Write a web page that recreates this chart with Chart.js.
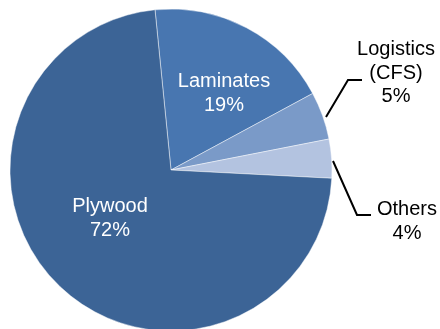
<!DOCTYPE html>
<html>
<head>
<meta charset="utf-8">
<script src="https://cdn.jsdelivr.net/npm/chart.js@4"></script>
<style>
    html, body { margin: 0; padding: 0; background: #fff; overflow: hidden; }
    #wrap { width: 440px; height: 329px; position: relative; }
</style>
</head>
<body>
<div id="wrap"><canvas id="pieChart" width="440" height="329"></canvas></div>
<script>
const categories = ['Laminates', 'Logistics\n(CFS)', 'Others', 'Plywood'];
const shares = [18.7, 4.8, 3.9, 72.6];
const shownPct = ['19%', '5%', '4%', '72%'];
const sliceColors = ['#4876b0', '#7a9ac8', '#b3c3e0', '#3c6496'];

// label placement per slice: inside text or outside text with a leader line
const labelSpots = [
    { x: 224, y: 87, inside: true },
    { x: 396, y: 55, inside: false, line: [[326, 117], [348, 80], [362, 80]] },
    { x: 407, y: 215, inside: false, line: [[333, 161], [357, 215], [371, 215]] },
    { x: 110, y: 212, inside: true }
];

const pieLabels = {
    id: 'pieLabels',
    afterDatasetsDraw(chart) {
        const ctx = chart.ctx;
        ctx.save();
        ctx.font = '20px "Liberation Sans", Arial, sans-serif';
        ctx.textAlign = 'center';
        ctx.textBaseline = 'alphabetic';
        categories.forEach((name, i) => {
            const spot = labelSpots[i];
            const lines = name.split('\n').concat(shownPct[i]);
            ctx.fillStyle = spot.inside ? '#ffffff' : '#000000';
            lines.forEach((t, k) => ctx.fillText(t, spot.x, spot.y + k * 23.5));
            if (spot.line) {
                ctx.strokeStyle = '#000000';
                ctx.lineWidth = 2;
                ctx.beginPath();
                ctx.moveTo(spot.line[0][0], spot.line[0][1]);
                spot.line.slice(1).forEach(p => ctx.lineTo(p[0], p[1]));
                ctx.stroke();
            }
        });
        ctx.restore();
    }
};

const ctx = document.getElementById('pieChart').getContext('2d');
new Chart(ctx, {
    type: 'pie',
    data: {
        labels: categories,
        datasets: [{
            data: shares,
            backgroundColor: sliceColors,
            borderColor: 'rgba(255,255,255,0.45)',
            borderWidth: 1,
            clip: false
        }]
    },
    options: {
        responsive: false,
        animation: false,
        rotation: -5.7,
        radius: 161,
        layout: { padding: { left: 0, right: 98, top: 11, bottom: 0 } },
        plugins: {
            legend: { display: false },
            tooltip: { enabled: false }
        }
    },
    plugins: [pieLabels]
});
</script>
</body>
</html>
